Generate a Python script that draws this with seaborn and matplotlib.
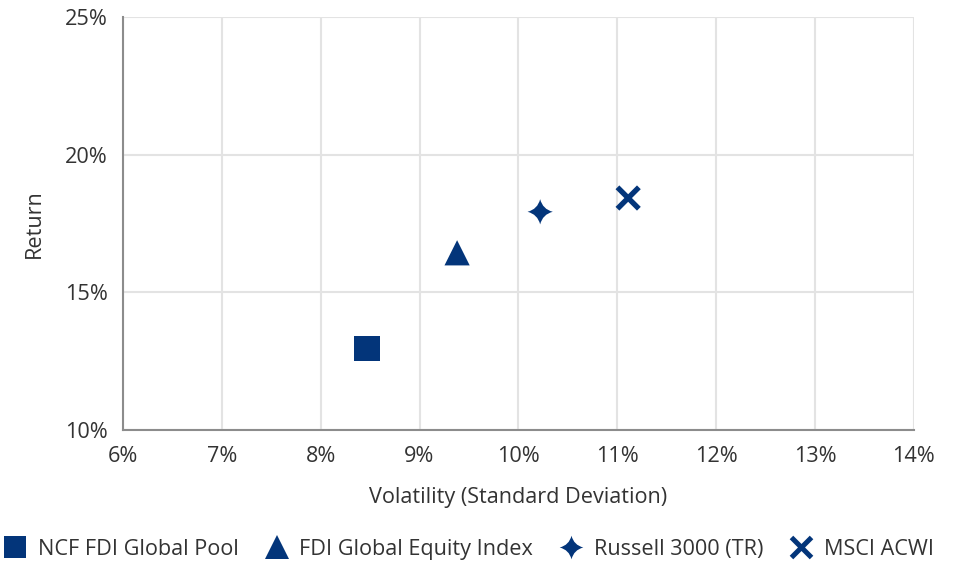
import matplotlib
matplotlib.use("Agg")
import matplotlib.pyplot as plt
from matplotlib.path import Path
from matplotlib.ticker import FuncFormatter
import numpy as np
import pandas as pd
import seaborn as sns

# Data
names = ["NCF FDI Global Pool", "FDI Global Equity Index", "Russell 3000 (TR)", "MSCI ACWI"]
volatility = [8.47, 9.38, 10.22, 11.11]
returns = [12.94, 16.43, 17.92, 18.42]
x_ticks = [6, 7, 8, 9, 10, 11, 12, 13, 14]
y_ticks = [10, 15, 20, 25]

color = "#03357a"
text_color = "#333333"
FS = 15.6

sns.set_theme(style="white")
plt.rcParams["font.family"] = ["Open Sans", "DejaVu Sans"]


def star4(ctrl=0.2):
    tips = [(0, 1), (-1, 0), (0, -1), (1, 0)]
    ctrls = [(-ctrl, ctrl), (-ctrl, -ctrl), (ctrl, -ctrl), (ctrl, ctrl)]
    verts = [tips[0]]
    codes = [Path.MOVETO]
    for i in range(4):
        verts.append(ctrls[i]); codes.append(Path.CURVE3)
        verts.append(tips[(i + 1) % 4]); codes.append(Path.CURVE3)
    verts.append(tips[0]); codes.append(Path.CLOSEPOLY)
    return Path(verts, codes)


def thick_x(d=0.3):
    v = [(-1 + d, 1), (0, d), (1 - d, 1), (1, 1 - d), (d, 0), (1, -1 + d),
         (1 - d, -1), (0, -d), (-1 + d, -1), (-1, -1 + d), (-d, 0), (-1, 1 - d), (-1 + d, 1)]
    codes = [Path.MOVETO] + [Path.LINETO] * 11 + [Path.CLOSEPOLY]
    return Path(v, codes)


markers = {names[0]: "s", names[1]: "^", names[2]: star4(), names[3]: thick_x()}

df = pd.DataFrame({"Series": names, "Volatility": volatility, "Return": returns})

fig = plt.figure(figsize=(9.6, 5.64), dpi=100)
ax = fig.add_axes([0.128, 0.238, 0.824, 0.732])

sns.scatterplot(data=df, x="Volatility", y="Return", hue="Series", style="Series",
                palette=[color] * 4, markers=markers, s=330, linewidth=0,
                ax=ax, legend=True, zorder=3)

ax.set_xlim(6, 14)
ax.set_ylim(10, 25)
ax.set_xticks(x_ticks)
ax.set_yticks(y_ticks)
ax.xaxis.set_major_formatter(FuncFormatter(lambda v, p: f"{v:.0f}%"))
ax.yaxis.set_major_formatter(FuncFormatter(lambda v, p: f"{v:.0f}%"))
ax.grid(True, color="#e3e3e3", linewidth=1.5)
ax.set_axisbelow(True)
for s in ["top", "right"]:
    ax.spines[s].set_visible(False)
for s in ["left", "bottom"]:
    ax.spines[s].set_color("#8c8c8c")
    ax.spines[s].set_linewidth(1.5)
ax.tick_params(axis="both", length=0, labelsize=FS, colors=text_color)
ax.tick_params(axis="x", pad=12)
ax.tick_params(axis="y", pad=11)
ax.set_xlabel("Volatility (Standard Deviation)", fontsize=FS, color=text_color, labelpad=14)
ax.set_ylabel("Return", fontsize=FS, color=text_color, labelpad=14)

sns.move_legend(ax, "center left", bbox_to_anchor=(-0.162, -0.29), ncol=4,
                frameon=False, title=None, fontsize=FS, handletextpad=0.5,
                columnspacing=1.2, borderaxespad=0, handlelength=1.1)
leg = ax.get_legend()
for t in leg.get_texts():
    t.set_color(text_color)
for i, h in enumerate(leg.legend_handles):
    ms = 15.5 if i == 0 else 17
    try:
        h.set_markersize(ms)
    except Exception:
        try:
            h.set_sizes([ms ** 2])
        except Exception:
            pass

fig.savefig("out.png", dpi=100)
